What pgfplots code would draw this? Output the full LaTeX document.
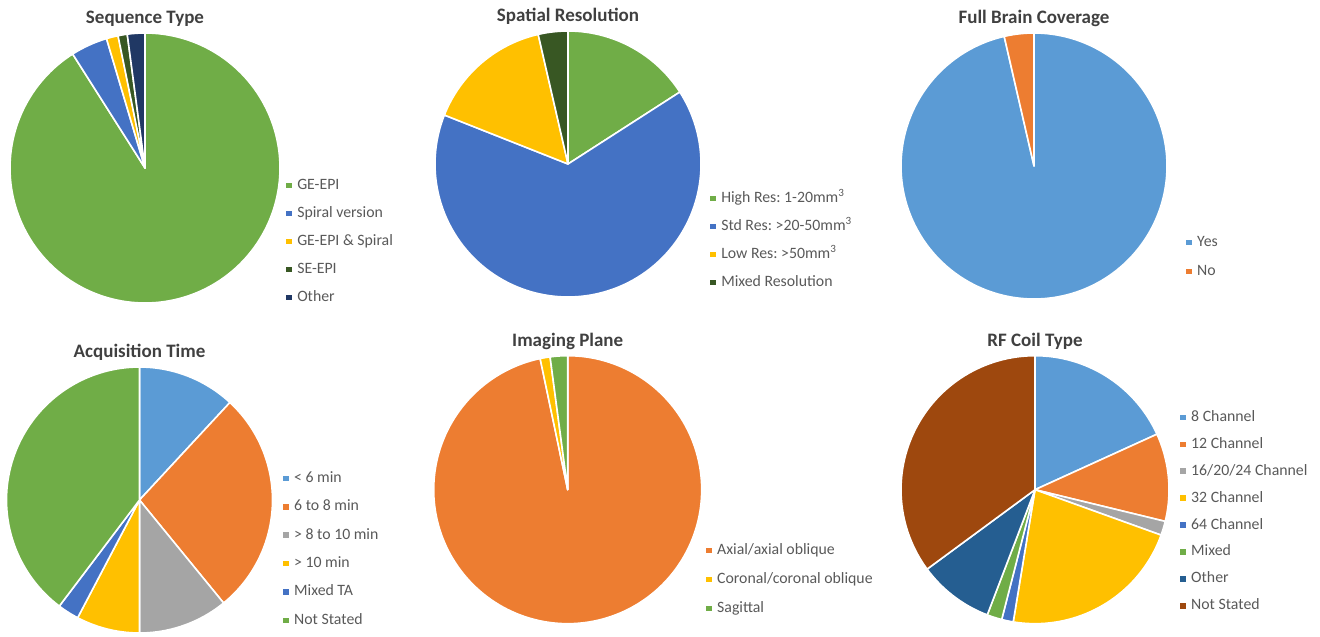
\documentclass[border=0pt]{standalone}
\usepackage{fontspec}
\setmainfont{Carlito}
\usepackage{pgfplots}
\pgfplotsset{compat=1.18}
\frenchspacing

% Office-style palette
\definecolor{cGreen}{HTML}{70AD47}
\definecolor{cBlue}{HTML}{4472C4}
\definecolor{cYellow}{HTML}{FFC000}
\definecolor{cLBlue}{HTML}{5B9BD5}
\definecolor{cOrange}{HTML}{ED7D31}
\definecolor{cGray}{HTML}{A5A5A5}
\definecolor{cDkGreen}{HTML}{385723}
\definecolor{cNavy}{HTML}{203864}
\definecolor{cDkBlue}{HTML}{255E91}
\definecolor{cBrown}{HTML}{9E480E}
\definecolor{titleGray}{HTML}{404040}
\definecolor{textGray}{HTML}{595959}

% one pie: list of value/colour/{label}, values in percent, clockwise from 12 o'clock
\newcommand\piechart[1]{%
  \gdef\pcum{0}%
  \foreach \v/\c/\lab in {#1} {%
    \pgfmathsetmacro\ps{90-3.6*\pcum}%
    \pgfmathsetmacro\pe{90-3.6*(\pcum+\v)}%
    \pgfmathtruncatemacro\pn{max(3,(\ps-\pe)/2)+2}%
    \pgfmathsetmacro\pnext{\pcum+\v}\xdef\pcum{\pnext}%
    \edef\temp{\noexpand\addplot[fill=\c, draw=white, line width=0.8pt,
        line join=round, domain=\pe:\ps, samples=\pn, variable=\noexpand\t]
        ({cos(\noexpand\t)},{sin(\noexpand\t)}) -- (axis cs:0,0) -- cycle;
      \noexpand\addlegendentry{\unexpanded\expandafter{\lab}}}%
    \temp
  }%
}

\pgfplotsset{
  pie/.style={
    hide axis, scale only axis, clip=false,
    xmin=-1, xmax=1, ymin=-1, ymax=1,
    title style={font=\bfseries\fontsize{9.5}{11}\selectfont, text=titleGray,
      at={(0.5,1)}, anchor=center, yshift=1.2pt},
    legend cell align=left,
    legend image code/.code={\path[#1, draw=none] (0pt,-1.4pt) rectangle (2.8pt,1.4pt);},
    legend style={draw=none, fill=none, anchor=north west, inner sep=0pt,
      font=\fontsize{7.9}{9}\selectfont, text=textGray,
      nodes={inner sep=0pt, text height=6pt, text depth=2pt},
      /tikz/every even column/.append style={column sep=0pt},
      /tikz/every odd column/.append style={column sep=2.6pt}},
  },
}

\begin{document}
\begin{tikzpicture}[x=0.5pt, y=-0.5pt]
\path[use as bounding box] (0,0) rectangle (1320,636);
\coordinate (a1) at (10,303);
\coordinate (a2) at (435,297);
\coordinate (a3) at (901,299);
\coordinate (a4) at (6.5,633);
\coordinate (a5) at (433.7,623.7);
\coordinate (a6) at (901,623.7);

\begin{axis}[pie, at={(a1)}, anchor=south west, width=135pt, height=135pt,
  title={Sequence Type},
  legend style={at={(axis cs:1.045,-0.067)}, row sep=6pt}]
\piechart{91.0/cGreen/{GE-EPI}, 4.4/cBlue/{Spiral version},
  1.4/cYellow/{GE-EPI \& Spiral}, 1.1/cDkGreen/{SE-EPI}, 2.1/cNavy/{Other}}
\end{axis}

\begin{axis}[pie, at={(a2)}, anchor=south west, width=133pt, height=133pt,
  title={Spatial Resolution},
  legend style={at={(axis cs:1.068,-0.195)}, row sep=6pt}]
\piechart{15.9/cGreen/{High Res: 1-20mm\textsuperscript{3}},
  65.1/cBlue/{Std Res: >20-50mm\textsuperscript{3}},
  15.4/cYellow/{Low Res: >50mm\textsuperscript{3}},
  3.6/cDkGreen/{Mixed Resolution}}
\end{axis}

\begin{axis}[pie, at={(a3)}, anchor=south west, width=133pt, height=133pt,
  title={Full Brain Coverage},
  legend style={at={(axis cs:1.143,-0.511)}, row sep=6.5pt}]
\piechart{96.4/cLBlue/{Yes}, 3.6/cOrange/{No}}
\end{axis}

\begin{axis}[pie, at={(a4)}, anchor=south west, width=133pt, height=133pt,
  title={Acquisition Time},
  legend style={at={(axis cs:1.079,0.226)}, row sep=6.2pt}]
\piechart{11.9/cLBlue/{< 6 min}, 27.2/cOrange/{6 to 8 min},
  10.9/cGray/{> 8 to 10 min}, 7.7/cYellow/{> 10 min},
  2.6/cBlue/{Mixed TA}, 39.7/cGreen/{Not Stated}}
\end{axis}

\begin{axis}[pie, at={(a5)}, anchor=south west, width=134pt, height=134pt,
  title={Imaging Plane},
  legend style={at={(axis cs:1.032,-0.390)}, row sep=6.5pt}]
\piechart{96.7/cOrange/{Axial/axial oblique},
  1.2/cYellow/{Coronal/coronal oblique}, 2.1/cGreen/{Sagittal}}
\end{axis}

\begin{axis}[pie, at={(a6)}, anchor=south west, width=134pt, height=134pt,
  title={RF Coil Type},
  legend style={at={(axis cs:1.082,0.602)}, row sep=5.45pt}]
\piechart{18.2/cLBlue/{8 Channel}, 10.6/cOrange/{12 Channel},
  1.7/cGray/{16/20/24 Channel}, 22.1/cYellow/{32 Channel},
  1.4/cBlue/{64 Channel}, 1.8/cGreen/{Mixed}, 9.1/cDkBlue/{Other},
  35.1/cBrown/{Not Stated}}
\end{axis}
\end{tikzpicture}
\end{document}
